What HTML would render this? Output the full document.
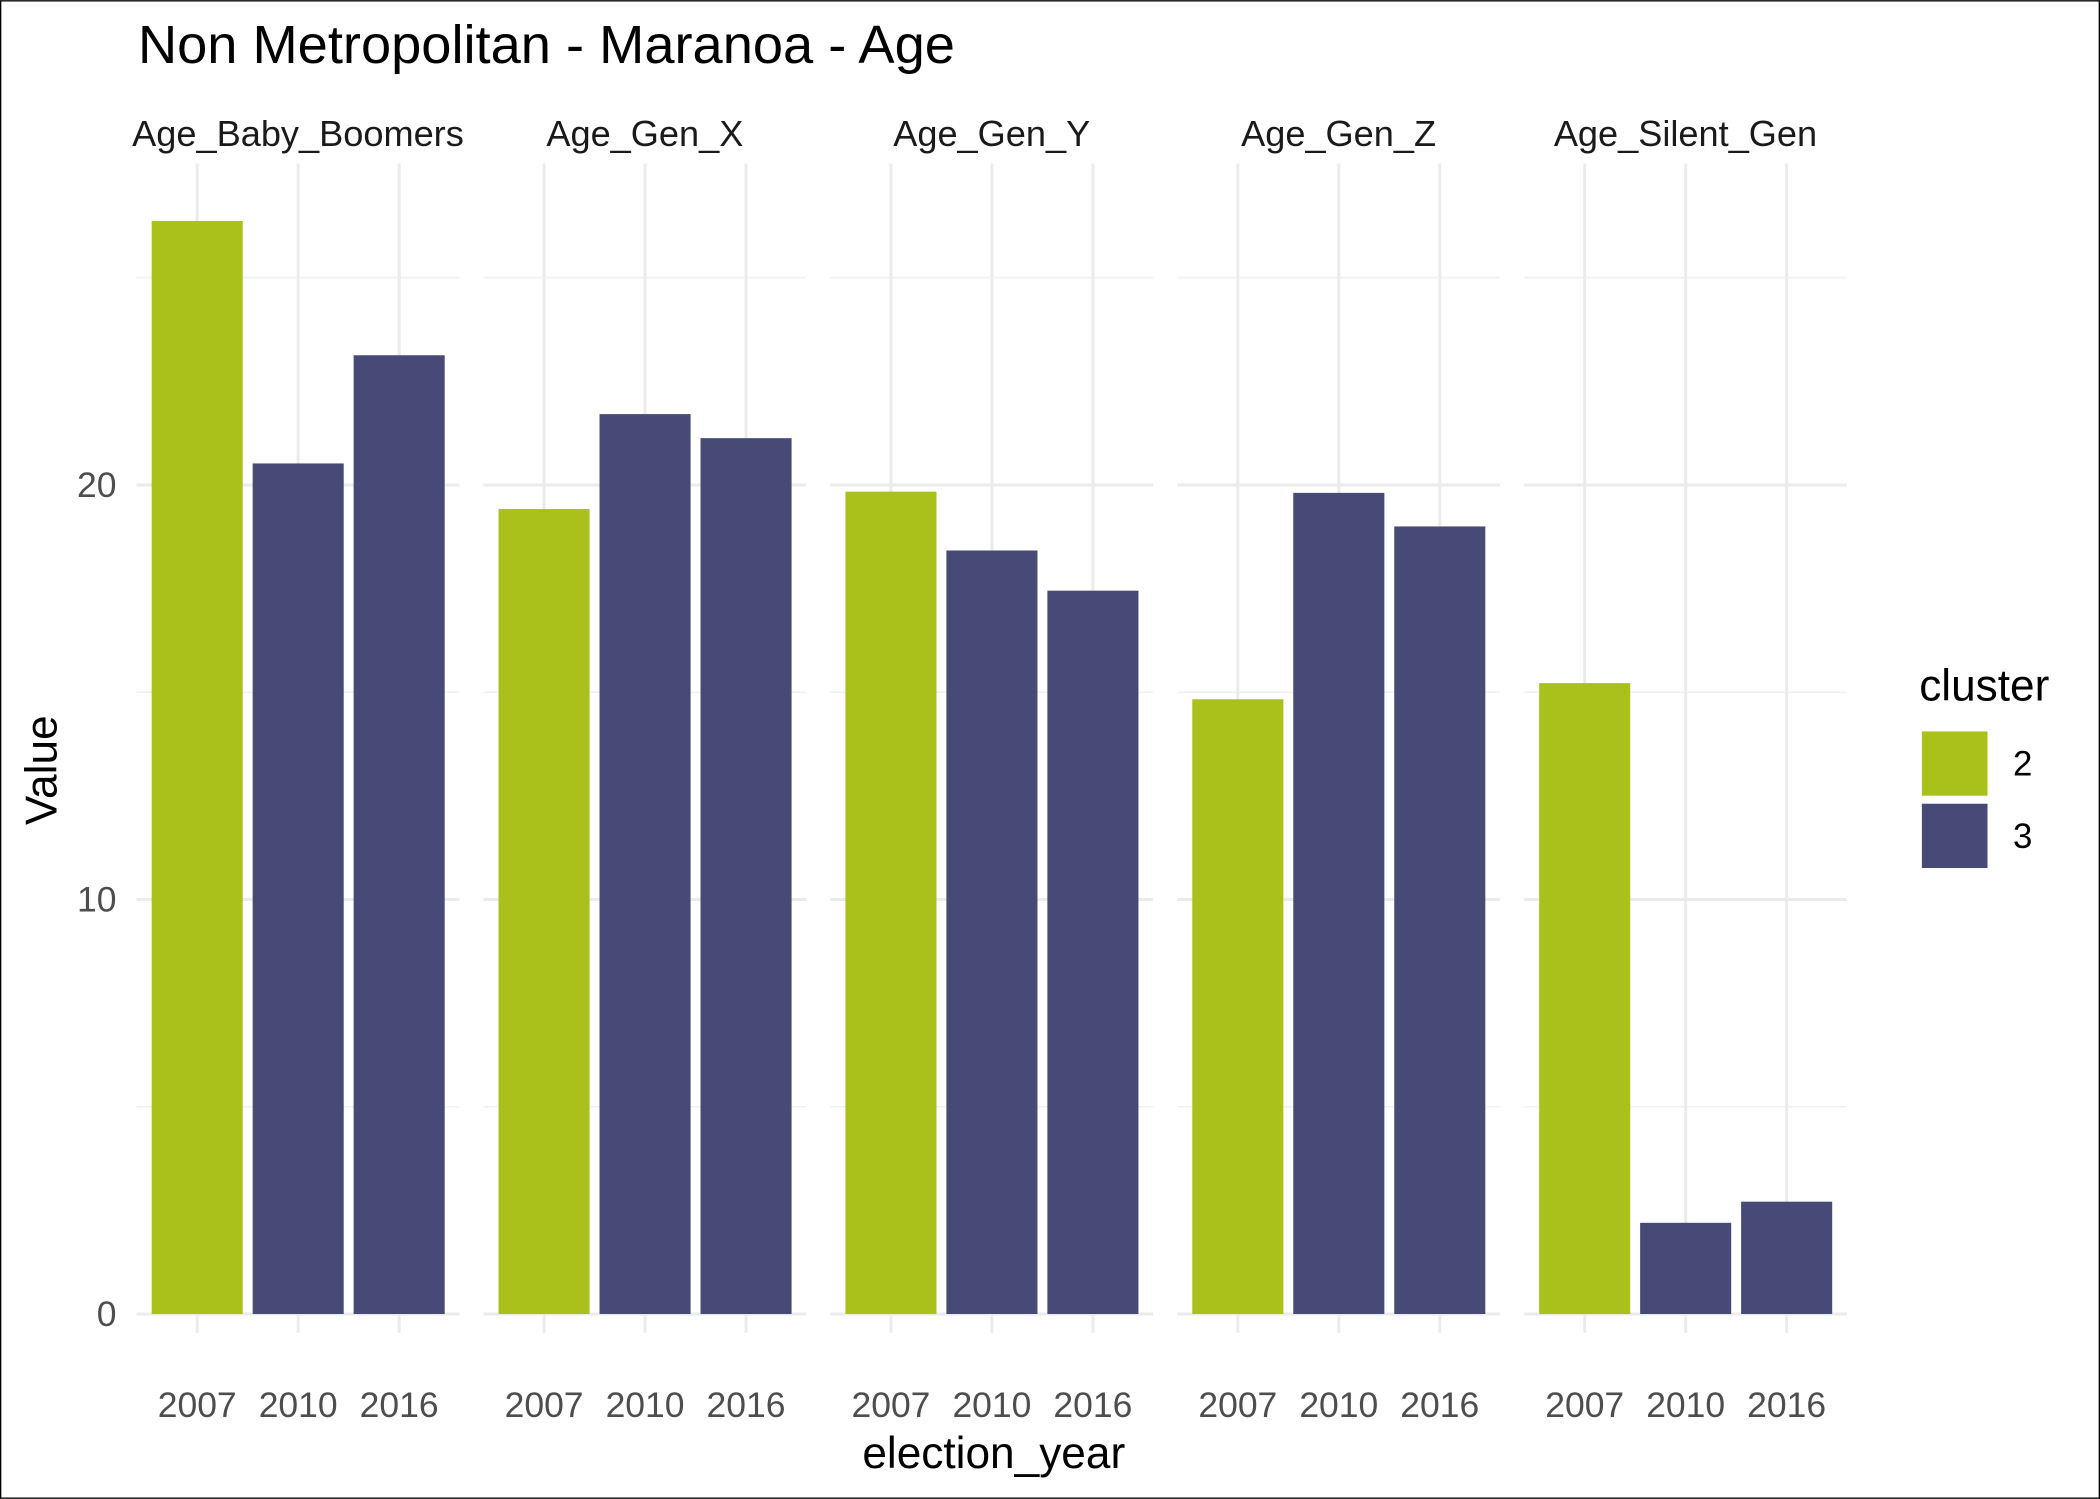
<!DOCTYPE html>
<html><head><meta charset="utf-8"><style>
html,body{margin:0;padding:0;background:#fff}
svg{display:block;font-family:"Liberation Sans",Arial,sans-serif}
</style></head><body>
<svg id="chart" width="2100" height="1499" viewBox="0 0 1568 1119" xmlns="http://www.w3.org/2000/svg">
<rect x="0.5" y="0.5" width="1567" height="1118" fill="#fff" stroke="#000" stroke-width="1"/>
<text x="103" y="47" font-size="40.5" fill="#000">Non Metropolitan - Maranoa - Age</text>
<g id="grid"></g>
<g id="bars"></g>
<g id="labels"></g>
<text x="742" y="1096" font-size="33" text-anchor="middle" fill="#000">election_year</text>
<text transform="translate(42,575) rotate(-90)" font-size="33" text-anchor="middle" fill="#000">Value</text>
<g>
<text x="1433" y="523" font-size="33" fill="#000">cluster</text>
<rect x="1435" y="546" width="49" height="48" fill="#A9C11A"/>
<text x="1503" y="579" font-size="26" fill="#000">2</text>
<rect x="1435" y="600" width="49" height="48" fill="#474A77"/>
<text x="1503" y="633" font-size="26" fill="#000">3</text>
</g>
</svg>
<script>
const panels = ["Age_Baby_Boomers","Age_Gen_X","Age_Gen_Y","Age_Gen_Z","Age_Silent_Gen"];
const years = ["2007","2010","2016"];
const clusters = [
  ["2","3","3"],["2","3","3"],["2","3","3"],["2","3","3"],["2","3","3"]
];
const values = [
  [26.37,20.52,23.13],
  [19.42,21.71,21.13],
  [19.84,18.42,17.45],
  [14.83,19.81,19.0],
  [15.22,2.2,2.71]
];
const yTicks = [0,10,20];
const yMinor = [5,15,25];
const colors = {"2":"#A9C11A","3":"#474A77"};
const NS="http://www.w3.org/2000/svg";
const y0=981, pxPerUnit=30.95, panelLeft0=102, panelStep=259, panelW=241, unit=75.4, barW=68;
const plotTop=122, plotBottom=995;
function yScale(v){return y0 - v*pxPerUnit;}
function xScale(p,i){return panelLeft0+p*panelStep+(0.6+i)*unit;}
function mk(tag,attrs,parent){const e=document.createElementNS(NS,tag);for(const k in attrs)e.setAttribute(k,attrs[k]);parent.appendChild(e);return e;}
const grid=document.getElementById('grid'),bars=document.getElementById('bars'),labels=document.getElementById('labels');
panels.forEach((name,p)=>{
  const L=panelLeft0+p*panelStep;
  yMinor.forEach(t=>{const l=mk('line',{x1:L,x2:L+panelW,y1:yScale(t),y2:yScale(t),stroke:'#f0f0f0','stroke-width':1.2},grid);
    
    });
  yTicks.forEach(t=>{const l=mk('line',{x1:L,x2:L+panelW,y1:yScale(t),y2:yScale(t),stroke:'#ebebeb','stroke-width':2.2},grid);
    
    });
  years.forEach((yr,i)=>{const x=xScale(p,i);
    const l=mk('line',{x1:x,x2:x,y1:plotTop,y2:plotBottom,stroke:'#ebebeb','stroke-width':2.2},grid);
    
    
    const v=values[p][i];
    const r=mk('rect',{x:x-barW/2,y:yScale(v),width:barW,height:yScale(0)-yScale(v),fill:colors[clusters[p][i]]},bars);
    
    
    const t=mk('text',{x:x,y:1058,'font-size':26.5,'text-anchor':'middle',fill:'#4d4d4d'},labels);t.textContent=yr;
    
    
  });
  const s=mk('text',{x:L+panelW/2,y:109,'font-size':27,'text-anchor':'middle',fill:'#1a1a1a'},labels);s.textContent=name;
  
  
});
yTicks.forEach(t=>{const e=mk('text',{x:87,y:yScale(t)+9,'font-size':26.5,'text-anchor':'end',fill:'#4d4d4d'},labels);e.textContent=t;
  
  });
</script>
</body></html>
